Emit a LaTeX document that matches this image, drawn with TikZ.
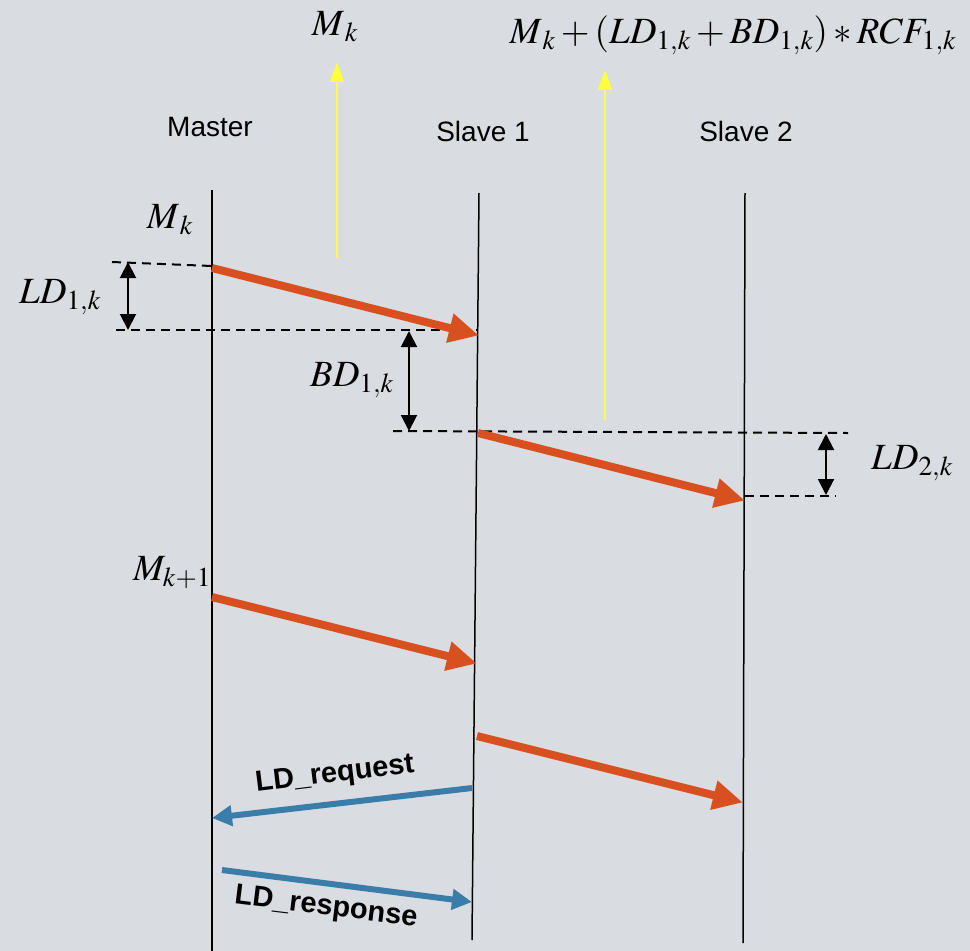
\documentclass[tikz,border=0pt]{standalone}
\usepackage[no-math]{fontspec}
\usepackage{mathptmx}
\setsansfont{Liberation Sans}
\usetikzlibrary{arrows.meta}
\definecolor{bgc}{RGB}{217,221,226}
\definecolor{msgred}{RGB}{216,80,32}
\definecolor{msgblue}{RGB}{58,125,168}
\definecolor{ylw}{RGB}{255,255,60}
\tikzset{
  lifeline/.style={line width=1.5pt,black},
  msg/.style={line width=8pt,msgred,-{Triangle[length=30pt,width=28pt]},shorten >=-2pt},
  req/.style={line width=6pt,msgblue,-{Triangle[length=20pt,width=20pt]}},
  ylarrow/.style={line width=2.5pt,ylw,-{Triangle[length=20pt,width=14pt]}},
  dim/.style={line width=2pt,black,{Triangle[length=16pt,width=16pt]}-{Triangle[length=16pt,width=16pt]}},
  guide/.style={line width=2pt,black,dash pattern=on 9pt off 6pt},
  role/.style={font=\sffamily\fontsize{28}{34}\selectfont,inner sep=0pt},
  lbl/.style={font=\sffamily\bfseries\fontsize{29}{34}\selectfont,inner sep=0pt},
  mth/.style={font=\fontsize{37}{42}\selectfont,inner sep=0pt}
}
\begin{document}
\begin{tikzpicture}[x=1pt,y=-1pt]
\fill[bgc] (0,0) rectangle (970,951);
\useasboundingbox (0,0) rectangle (970,951);
% lifelines
\coordinate (mt) at (212,190); \coordinate (mb) at (212,951);
\coordinate (s1t) at (479,193); \coordinate (s1b) at (472,940);
\coordinate (s2t) at (745,193); \coordinate (s2b) at (743,943);
\draw[lifeline] (mt) -- (mb);
\draw[lifeline] (s1t) -- (s1b);
\draw[lifeline] (s2t) -- (s2b);
\node[role] (master) at (210,127) {Master};
\node[role] (slave1) at (483,131) {Slave 1};
\node[role] (slave2) at (746,131) {Slave 2};
% dashed guides
\coordinate (g1a) at (112,262); \coordinate (g1b) at (212,266);
\coordinate (g2a) at (116,330); \coordinate (g2b) at (478,330);
\coordinate (g3a) at (393,431); \coordinate (g3b) at (848,433);
\coordinate (g4a) at (745,496); \coordinate (g4b) at (836,496);
\draw[guide] (g1a) -- (g1b);
\draw[guide] (g2a) -- (g2b);
\draw[guide] (g3a) -- (g3b);
\draw[guide] (g4a) -- (g4b);
% dimension arrows
\coordinate (d1a) at (128,262); \coordinate (d1b) at (128,330);
\coordinate (d2a) at (409,331); \coordinate (d2b) at (409,431);
\coordinate (d3a) at (826,434); \coordinate (d3b) at (826,495);
\draw[dim] (d1a) -- (d1b);
\draw[dim] (d2a) -- (d2b);
\draw[dim] (d3a) -- (d3b);
% yellow arrows
\coordinate (y1a) at (337,258); \coordinate (y1b) at (337,62);
\coordinate (y2a) at (605,420); \coordinate (y2b) at (605,70);
\draw[ylarrow] (y1a) -- (y1b);
\draw[ylarrow] (y2a) -- (y2b);
% red messages
\coordinate (r1a) at (212,268); \coordinate (r1b) at (477,335);
\coordinate (r2a) at (478,433); \coordinate (r2b) at (743,500);
\coordinate (r3a) at (212,597); \coordinate (r3b) at (475,663);
\coordinate (r4a) at (477,736); \coordinate (r4b) at (741,802);
\draw[msg] (r1a) -- (r1b);
\draw[msg] (r2a) -- (r2b);
\draw[msg] (r3a) -- (r3b);
\draw[msg] (r4a) -- (r4b);
% blue messages
\coordinate (b1a) at (472,788); \coordinate (b1b) at (212,818);
\coordinate (b2a) at (222,870); \coordinate (b2b) at (472,902);
\draw[req] (b1a) -- (b1b);
\draw[req] (b2a) -- (b2b);
\node[lbl,rotate=7] (ldreq) at (335,775) {LD\_request};
\node[lbl,rotate=-7] (ldresp) at (326,908) {LD\_response};
% math labels
\node[mth] (mk0) at (335,27) {$M_{\,k}$};
\node[mth] (form) at (733,35) {$M_{\,k}+(LD_{1,k}+BD_{1,k})*RCF_{1,k}$};
\node[mth] (mk) at (170,220) {$M_{\,k}$};
\node[mth] (ld1) at (60,297) {$LD_{1,k}$};
\node[mth] (bd1) at (352,380) {$BD_{1,k}$};
\node[mth] (ld2) at (912,463) {$LD_{2,k}$};
\node[mth] (mk1) at (172,573) {$M_{k+1}$};
\end{tikzpicture}
\end{document}
